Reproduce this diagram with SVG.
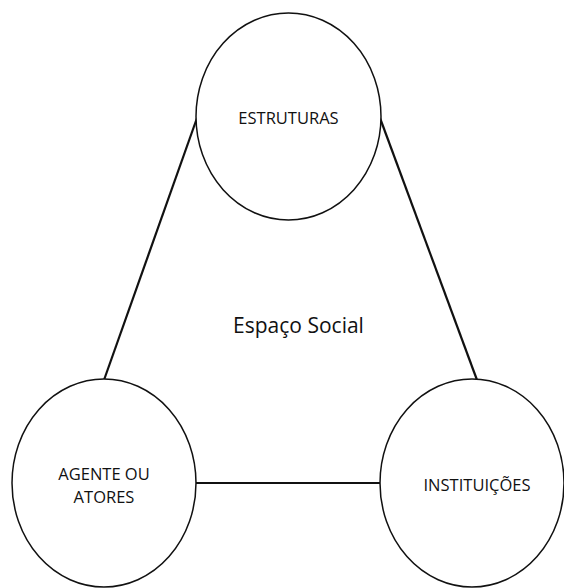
<svg xmlns="http://www.w3.org/2000/svg" width="564" height="588" viewBox="0 0 564 588">
<style>
.node{fill:#fff;stroke:#111;stroke-width:1.5}
.edge{stroke:#111;stroke-width:2.2;fill:none}
.lbl{font-family:"Open Sans","Liberation Sans",sans-serif;font-size:16.5px;fill:#111;text-anchor:middle}
.big{font-family:"Open Sans","Liberation Sans",sans-serif;font-size:21px;fill:#111;text-anchor:middle}
</style>
<rect width="564" height="588" fill="#fff"/>
<g id="connectors">
<line class="edge" x1="197" y1="118" x2="104" y2="380"/>
<line class="edge" x1="380" y1="118" x2="477" y2="380"/>
<line class="edge" x1="195" y1="483" x2="381" y2="483"/>
</g>
<g id="estruturas">
<ellipse class="node" cx="288.5" cy="116.5" rx="92.5" ry="103.5"/>
<text class="lbl" x="288.5" y="124">ESTRUTURAS</text>
</g>
<g id="agente">
<ellipse class="node" cx="104" cy="483" rx="92" ry="104"/>
<text class="lbl" x="104" y="480">AGENTE OU</text>
<text class="lbl" x="104" y="503">ATORES</text>
</g>
<g id="instituicoes">
<ellipse class="node" cx="472" cy="483" rx="92" ry="104"/>
<text class="lbl" x="477" y="491">INSTITUIÇÕES</text>
</g>
<text class="big" x="298.5" y="333">Espaço Social</text>
</svg>
